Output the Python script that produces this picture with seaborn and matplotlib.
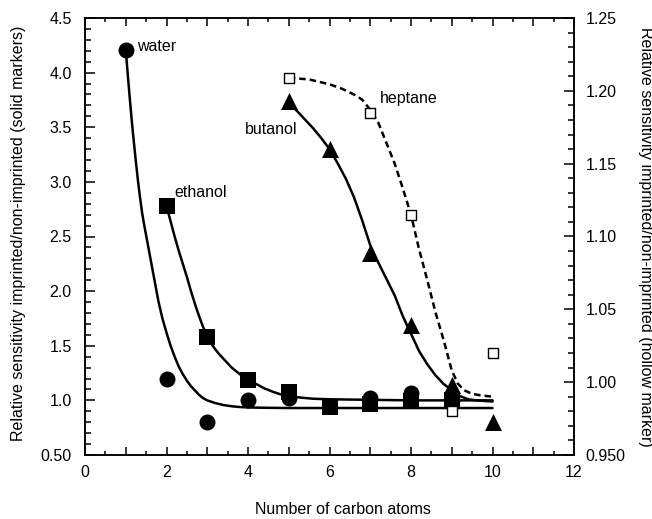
import matplotlib
matplotlib.use("Agg")
import matplotlib.pyplot as plt
import seaborn as sns
from matplotlib.ticker import FixedLocator, FixedFormatter, MultipleLocator

# ---- measured data (left axis, solid markers) ----
water_x = [1, 2, 3, 4, 5, 7, 8, 9]
water_y = [4.21, 1.20, 0.80, 1.00, 1.02, 1.02, 1.07, 1.00]
ethanol_x = [2, 3, 4, 5, 6, 7, 8, 9]
ethanol_y = [2.78, 1.58, 1.19, 1.08, 0.94, 0.97, 0.99, 1.00]
butanol_x = [5, 6, 7, 8, 9, 10]
butanol_y = [3.74, 3.30, 2.35, 1.69, 1.14, 0.80]
# ---- right axis, hollow markers ----
heptane_x = [5, 7, 8, 9, 10]
heptane_y = [1.209, 1.185, 1.115, 0.980, 1.020]

# ---- fitted curves ----
water_fit_x = [1.0, 1.05, 1.1, 1.15, 1.2, 1.25, 1.3, 1.35, 1.4, 1.45, 1.5, 1.6, 1.7, 1.8, 1.9, 2.0,
               2.1, 2.2, 2.3, 2.4, 2.5, 2.6, 2.7, 2.8, 2.9, 3.0, 3.2, 3.4, 3.6, 3.8, 4.0, 4.5, 5.0, 10.0]
water_fit_y = [4.21, 3.98, 3.76, 3.55, 3.36, 3.18, 3.01, 2.86, 2.72, 2.61, 2.51, 2.31, 2.11, 1.91, 1.75, 1.62,
               1.50, 1.40, 1.31, 1.24, 1.18, 1.13, 1.09, 1.05, 1.02, 1.00, 0.975, 0.957, 0.946, 0.939, 0.935, 0.932, 0.93, 0.93]
ethanol_fit_x = [2.0, 2.1, 2.2, 2.3, 2.4, 2.5, 2.6, 2.7, 2.8, 2.9, 3.0, 3.1, 3.2, 3.3, 3.4, 3.5, 3.6, 3.7,
                 3.8, 3.9, 4.0, 4.2, 4.4, 4.6, 4.8, 5.0, 5.3, 5.6, 6.0, 7.0, 8.0, 10.0]
ethanol_fit_y = [2.78, 2.64, 2.50, 2.37, 2.25, 2.13, 2.00, 1.88, 1.77, 1.67, 1.59, 1.52, 1.465, 1.42, 1.38, 1.34, 1.30, 1.27,
                 1.24, 1.21, 1.19, 1.15, 1.11, 1.08, 1.055, 1.04, 1.025, 1.015, 1.01, 1.005, 1.0, 1.0]
butanol_fit_x = [5.0, 5.2, 5.4, 5.6, 5.8, 6.0, 6.2, 6.4, 6.6, 6.8, 7.0, 7.2, 7.4, 7.6, 7.8, 8.0, 8.2,
                 8.4, 8.6, 8.8, 9.0, 9.2, 9.4, 9.6, 10.0]
butanol_fit_y = [3.72, 3.65, 3.57, 3.49, 3.40, 3.30, 3.17, 3.03, 2.86, 2.65, 2.42, 2.26, 2.11, 1.96, 1.77, 1.61, 1.45,
                 1.33, 1.23, 1.15, 1.095, 1.04, 1.01, 1.00, 0.99]
heptane_fit_x = [5.0, 5.5, 6.0, 6.3, 6.6, 6.8, 7.0, 7.2, 7.4, 7.6, 7.8, 8.0, 8.2, 8.4, 8.6, 8.8, 9.0,
                 9.15, 9.3, 9.5, 9.7, 10.0]
heptane_fit_y = [1.209, 1.2078, 1.2045, 1.2015, 1.1975, 1.194, 1.187, 1.178, 1.164, 1.150, 1.133, 1.115, 1.091,
                 1.070, 1.048, 1.029, 1.008, 0.999, 0.9945, 0.992, 0.991, 0.990]

x_ticks = list(range(0, 13))
x_labels = [str(t) if t % 2 == 0 else "" for t in x_ticks]
left_ticks = [0.5, 1.0, 1.5, 2.0, 2.5, 3.0, 3.5, 4.0, 4.5]
left_labels = ["0.50", "1.0", "1.5", "2.0", "2.5", "3.0", "3.5", "4.0", "4.5"]
right_ticks = [0.95, 1.00, 1.05, 1.10, 1.15, 1.20, 1.25]
right_labels = ["0.950", "1.00", "1.05", "1.10", "1.15", "1.20", "1.25"]

sns.set_style("ticks")
plt.rcParams['font.family'] = ['Liberation Sans', 'DejaVu Sans']
plt.rcParams['text.color'] = 'black'
plt.rcParams['axes.labelcolor'] = 'black'
plt.rcParams['xtick.color'] = 'black'
plt.rcParams['ytick.color'] = 'black'
FS = 11.5

fig = plt.figure(figsize=(6.52, 5.19), dpi=100)
ax = fig.add_axes([85/652, 64/519, 489/652, 437/519])
ax2 = ax.twinx()

LW = 1.8
for fx, fy in [(water_fit_x, water_fit_y), (ethanol_fit_x, ethanol_fit_y), (butanol_fit_x, butanol_fit_y)]:
    sns.lineplot(x=fx, y=fy, ax=ax, color='black', lw=LW, sort=False, estimator=None, zorder=2)

sns.lineplot(x=heptane_fit_x, y=heptane_fit_y, ax=ax2, color='black', lw=LW, sort=False,
             estimator=None, zorder=2, linestyle=(0, (2.6, 1.6)))

sns.scatterplot(x=water_x, y=water_y, ax=ax, marker='o', s=132, color='black', edgecolor='black', linewidth=0, zorder=3)
sns.scatterplot(x=ethanol_x, y=ethanol_y, ax=ax, marker='s', s=125, color='black', edgecolor='black', linewidth=0, zorder=3)
sns.scatterplot(x=butanol_x, y=butanol_y, ax=ax, marker='^', s=150, color='black', edgecolor='black', linewidth=0, zorder=3)
sns.scatterplot(x=heptane_x, y=heptane_y, ax=ax2, marker='s', s=50, color='white', edgecolor='black', linewidth=1.0, zorder=3)

ax.set_xlim(0, 12)
ax.set_ylim(0.5, 4.5)
ax2.set_ylim(0.95, 1.25)

ax.xaxis.set_major_locator(FixedLocator(x_ticks))
ax.xaxis.set_major_formatter(FixedFormatter(x_labels))
ax.xaxis.set_minor_locator(MultipleLocator(0.5))
ax.yaxis.set_major_locator(FixedLocator(left_ticks))
ax.yaxis.set_major_formatter(FixedFormatter(left_labels))
ax.yaxis.set_minor_locator(MultipleLocator(0.1))
ax2.yaxis.set_major_locator(FixedLocator(right_ticks))
ax2.yaxis.set_major_formatter(FixedFormatter(right_labels))
ax2.yaxis.set_minor_locator(MultipleLocator(0.01))

ax.tick_params(axis='x', which='major', direction='in', top=True, bottom=True, length=6, width=1.1,
               labelsize=FS, pad=7, colors='black')
ax.tick_params(axis='x', which='minor', direction='in', top=True, bottom=True, length=3, width=1.1)
ax.tick_params(axis='y', which='major', direction='in', left=True, right=False, length=7, width=1.1,
               labelsize=FS, pad=9.5, colors='black')
ax.tick_params(axis='y', which='minor', direction='in', left=True, right=False, length=4, width=1.1)
ax2.tick_params(axis='y', which='major', direction='in', right=True, length=7, width=1.1,
                labelsize=FS, pad=8.5, colors='black')
ax2.tick_params(axis='y', which='minor', direction='in', right=True, length=4, width=1.1)

for a in (ax, ax2):
    for s in a.spines.values():
        s.set_visible(True)
        s.set_linewidth(1.1)
        s.set_color('black')

ax.set_xlabel("Number of carbon atoms", fontsize=FS, color='black')
ax.xaxis.set_label_coords(0.527, -0.124)
ax.xaxis.label.set_verticalalignment('center')
ax.set_ylabel("Relative sensitivity imprinted/non-imprinted (solid markers)", fontsize=FS, color='black')
ax.yaxis.set_label_coords(-66/489, 0.507)
ax.yaxis.label.set_verticalalignment('center')
ax2.set_ylabel("Relative sensitivity imprinted/non-imprinted (hollow marker)", fontsize=FS, rotation=270, color='black')
ax2.yaxis.set_label_coords(1 + 71/489, 0.5)
ax2.yaxis.label.set_verticalalignment('center')

ax.text(1.27, 4.24, "water", fontsize=FS, ha='left', va='center', color='black')
ax.text(2.19, 2.90, "ethanol", fontsize=FS, ha='left', va='center', color='black')
ax.text(3.93, 3.475, "butanol", fontsize=FS, ha='left', va='center', color='black')
ax.text(7.24, 3.765, "heptane", fontsize=FS, ha='left', va='center', color='black')

fig.savefig("out.png", dpi=100)
